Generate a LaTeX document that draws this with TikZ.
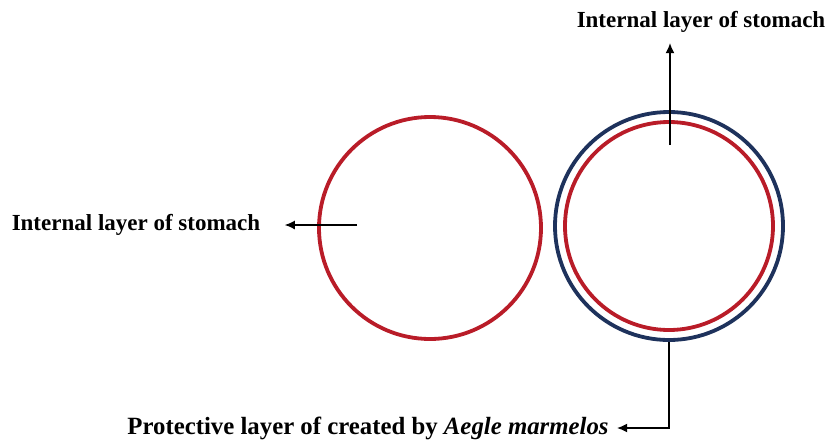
\documentclass[tikz,border=0pt]{standalone}
\usepackage{fontspec}
\setmainfont{Liberation Serif}
\usepackage{tikz}
\usetikzlibrary{positioning,arrows.meta}
\definecolor{layerred}{RGB}{185,28,40}
\definecolor{layerblue}{RGB}{30,50,92}

\begin{document}
\begin{tikzpicture}[
    x=0.5pt, y=-0.5pt,
    ring/.style={draw, circle, line width=1.9pt, inner sep=0pt},
    lbl/.style={font=\fontsize{11.5}{13}\selectfont\bfseries, inner sep=2pt},
    line/.style={-{Latex[length=1.8mm,width=1.6mm]}, line width=0.8pt}
]
\useasboundingbox (0,0) rectangle (830,440);
\node[ring, layerred, minimum size=111pt] (stomach) at (430,228) {};
\node[ring, layerblue, minimum size=114pt] (outer) at (669,226) {};
\node[ring, layerred, minimum size=104pt] (inner) at (669,226) {};

\node[lbl] (leftlbl) at (136,225) {Internal layer of stomach};
\node[lbl] (toplbl) at (701,22) {Internal layer of stomach};
\node[lbl, font=\fontsize{12.4}{14}\selectfont\bfseries] (botlbl) at (368,428) {Protective layer of created by \textit{Aegle marmelos}};

\coordinate (lstart) at (357,225);
\coordinate (tstart) at (670,145);
\coordinate (ttip) at (670,43);

\draw[line] (lstart) -- ([xshift=10pt]leftlbl.east);
\draw[line] (tstart) -- (ttip);
\draw[line] (outer.south) |- ([xshift=2pt]botlbl.east);
\end{tikzpicture}
\end{document}
